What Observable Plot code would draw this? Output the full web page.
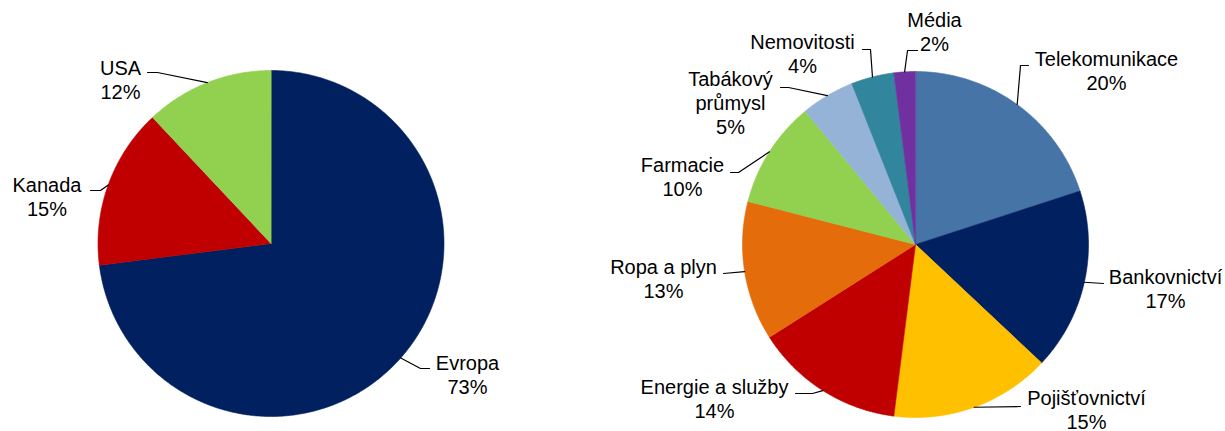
<!DOCTYPE html>
<html>
<head>
<meta charset="utf-8">
<script src="https://cdn.jsdelivr.net/npm/d3@7"></script>
<script src="https://cdn.jsdelivr.net/npm/@observablehq/plot@0.6"></script>
<style>
  html, body { margin: 0; padding: 0; background: #fff; }
  #chart svg { display: block; }
</style>
</head>
<body>
<div id="chart"></div>
<script>
// ---- data ----
const leftCategories = ["Evropa", "Kanada", "USA"];
const leftValues = [73, 15, 12];
const leftColors = ["#002060", "#C00000", "#92D050"];

const rightCategories = ["Telekomunikace", "Bankovnictví", "Pojišťovnictví", "Energie a služby", "Ropa a plyn", "Farmacie", "Tabákový průmysl", "Nemovitosti", "Média"];
const rightValues = [20, 17, 15, 14, 13, 10, 5, 4, 2];
const rightColors = ["#4674A6", "#002060", "#FFC000", "#C00000", "#E46C0A", "#92D050", "#95B3D7", "#31859C", "#7030A0"];

// ---- layout (pixels) ----
const W = 1225, H = 431;
const pies = [
  {cats: leftCategories, vals: leftValues, cx: 270.5, cy: 243, r: 173},
  {cats: rightCategories, vals: rightValues, cx: 915, cy: 244, r: 173}
];
// label anchor (center x, last baseline y) and leader start/elbow points
const labelLayout = {
  "Evropa":           {x: 467,  y: 393, start: [429, 368], elbow: [420, 368]},
  "Kanada":           {x: 46.5, y: 215, start: [90, 190],  elbow: [100, 190]},
  "USA":              {x: 120,  y: 98,  start: [147, 72],  elbow: [157, 72]},
  "Telekomunikace":   {x: 1106, y: 89,  start: [1028, 65], elbow: [1020, 65]},
  "Bankovnictví":     {x: 1165, y: 307, start: [1103, 283], elbow: null},
  "Pojišťovnictví":   {x: 1086, y: 428, start: [1020, 406], elbow: null},
  "Energie a služby": {x: 714,  y: 417, start: [795, 393], elbow: [812, 393]},
  "Ropa a plyn":      {x: 663,  y: 297, start: [723, 273], elbow: null},
  "Farmacie":         {x: 682,  y: 195, start: [730, 172], elbow: [738, 172]},
  "Tabákový průmysl": {x: 730,  y: 133, start: [780, 87],  elbow: [788, 87], text: "Tabákový\nprůmysl"},
  "Nemovitosti":      {x: 802,  y: 72,  start: [862, 49],  elbow: [870, 49]},
  "Média":            {x: 934,  y: 50,  start: [917, 50],  elbow: [907, 50]}
};

// ---- build geometry from data ----
const slicePts = [];
const labels = [];
const leaders = [];
const pieGen = d3.pie().sort(null).value(d => d.v);
pies.forEach(p => {
  const arcs = pieGen(p.cats.map((c, i) => ({c, v: p.vals[i]})));
  arcs.forEach(a => {
    const c = a.data.c;
    slicePts.push({cat: c, x: p.cx, y: p.cy});
    const span = a.endAngle - a.startAngle;
    const n = Math.max(4, Math.ceil(span / (Math.PI / 360)));
    for (let k = 0; k <= n; k++) {
      const t = a.startAngle + span * k / n;
      slicePts.push({cat: c, x: p.cx + p.r * Math.sin(t), y: p.cy - p.r * Math.cos(t)});
    }
    const L = labelLayout[c];
    const name = L.text || c;
    labels.push({x: L.x, y: L.y, text: name + "\n" + a.data.v + "%"});
    const mid = (a.startAngle + a.endAngle) / 2;
    const pts = [L.start];
    if (L.elbow) pts.push(L.elbow);
    pts.push([p.cx + p.r * Math.sin(mid), p.cy - p.r * Math.cos(mid)]);
    pts.forEach(q => leaders.push({cat: c, x: q[0], y: q[1]}));
  });
});

const chart = Plot.plot({
  width: W,
  height: H,
  margin: 0,
  style: {fontFamily: "'Liberation Sans', Arial, sans-serif", background: "#fff"},
  x: {domain: [0, W], range: [0, W], axis: null},
  y: {domain: [0, H], range: [0, H], axis: null},
  color: {type: "ordinal", domain: [...leftCategories, ...rightCategories], range: [...leftColors, ...rightColors]},
  marks: [
    Plot.line(slicePts, {x: "x", y: "y", z: "cat", fill: "cat", stroke: "cat", strokeWidth: 0.6, curve: "linear-closed"}),
    Plot.line(leaders, {x: "x", y: "y", z: "cat", stroke: "#000", strokeWidth: 1.2}),
    Plot.text(labels, {x: "x", y: "y", text: "text", textAnchor: "middle", lineAnchor: "bottom", lineHeight: 1.18, fontSize: 20, fill: "#000"})
  ]
});
document.getElementById("chart").appendChild(chart);
</script>
</body>
</html>
